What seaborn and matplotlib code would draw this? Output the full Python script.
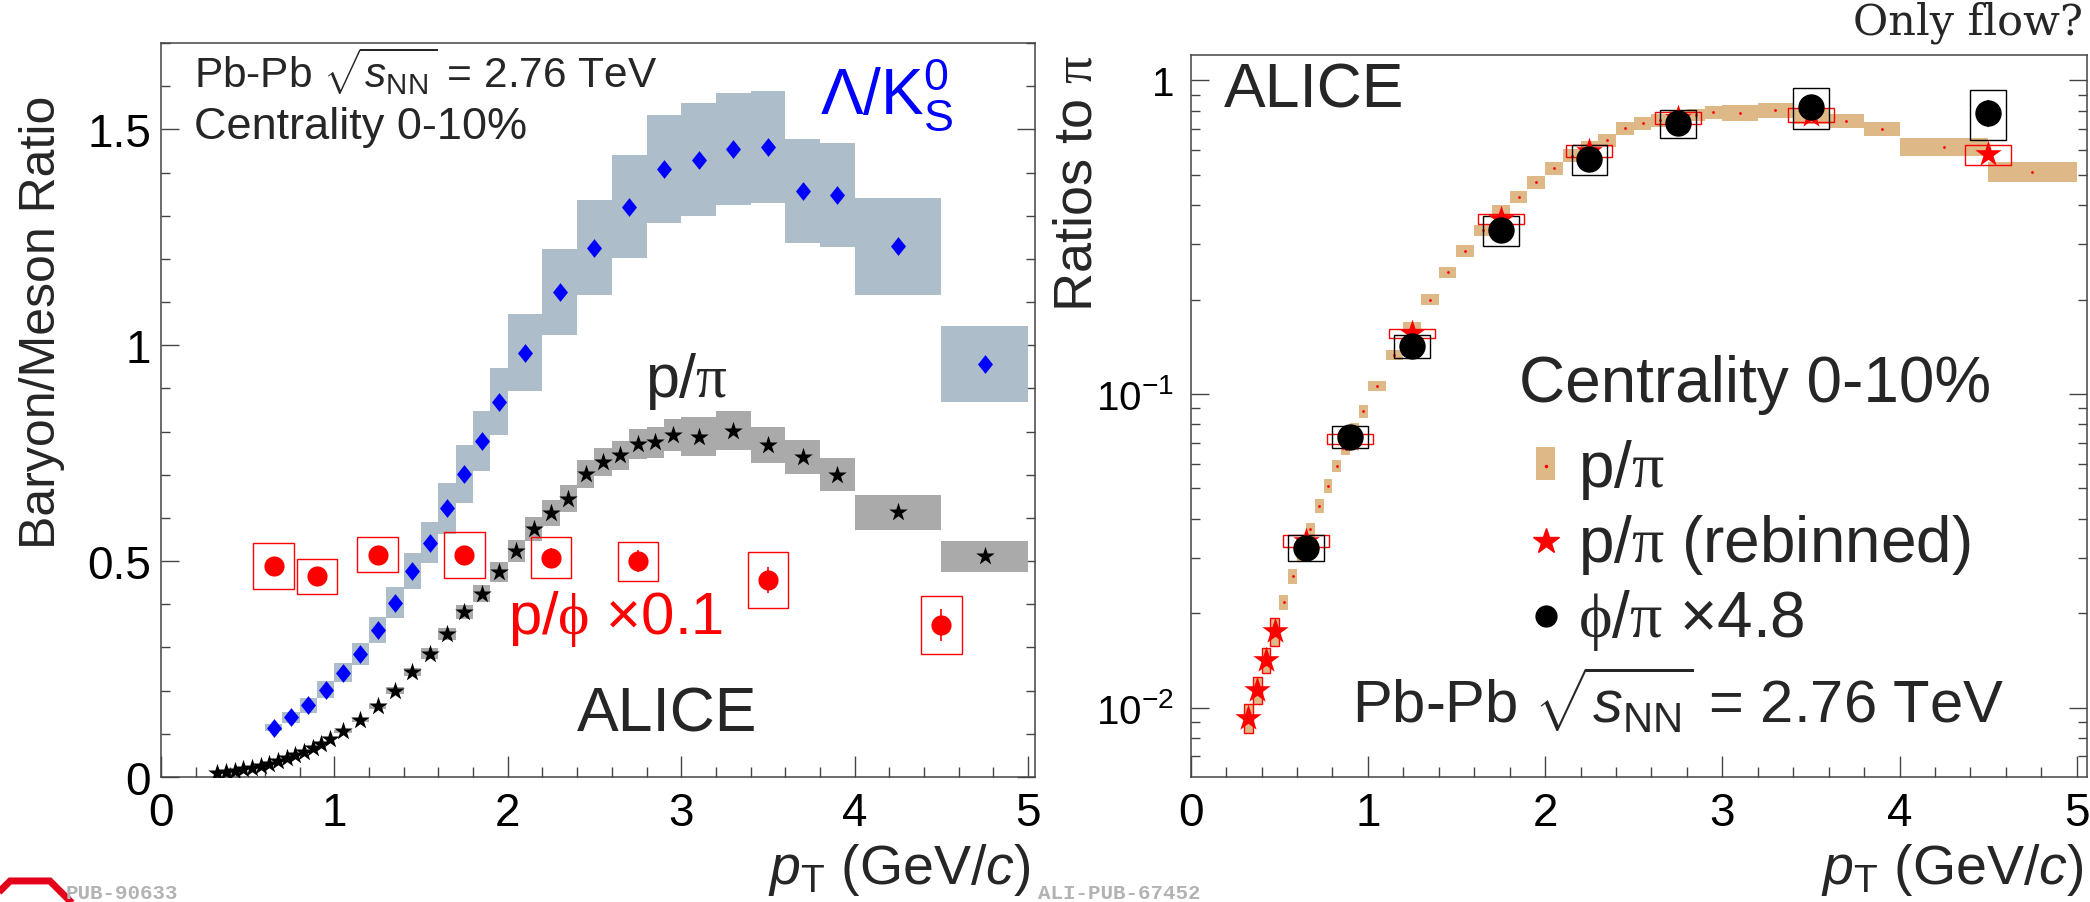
import numpy as np
import pandas as pd
import seaborn as sns
import matplotlib.pyplot as plt
from matplotlib.path import Path
from matplotlib.patches import Patch, Polygon
from matplotlib.lines import Line2D
from matplotlib.legend_handler import HandlerTuple
from matplotlib.ticker import MultipleLocator, FixedLocator, FixedFormatter, LogLocator, NullFormatter, FuncFormatter

# Lambda / K0s (0-10%)
lk_pt = [0.65, 0.75, 0.85, 0.95, 1.05, 1.15, 1.25, 1.35, 1.45, 1.55, 1.65, 1.75, 1.85, 1.95,
         2.1, 2.3, 2.5, 2.7, 2.9, 3.1, 3.3, 3.5, 3.7, 3.9, 4.25, 4.75]
lk_bin = [0.1] * 14 + [0.2] * 10 + [0.5] * 2
lk_val = [0.114, 0.138, 0.166, 0.202, 0.241, 0.285, 0.341, 0.404, 0.477, 0.543, 0.622, 0.702, 0.778, 0.869,
          0.983, 1.123, 1.226, 1.321, 1.408, 1.430, 1.455, 1.459, 1.357, 1.348, 1.229, 0.956]
lk_sys = [0.008, 0.012, 0.017, 0.02, 0.022, 0.026, 0.03, 0.035, 0.042, 0.048, 0.06, 0.067, 0.07, 0.078,
          0.09, 0.10, 0.11, 0.12, 0.126, 0.13, 0.13, 0.13, 0.12, 0.12, 0.112, 0.088]

# p / pi (0-10%)
pp_pt = [0.325, 0.375, 0.425, 0.475, 0.525, 0.575, 0.625, 0.675, 0.725, 0.775, 0.825, 0.875, 0.925, 0.975,
         1.05, 1.15, 1.25, 1.35, 1.45, 1.55, 1.65, 1.75, 1.85, 1.95,
         2.05, 2.15, 2.25, 2.35, 2.45, 2.55, 2.65, 2.75, 2.85, 2.95,
         3.1, 3.3, 3.5, 3.7, 3.9, 4.25, 4.75]
pp_bin = [0.05] * 14 + [0.1] * 20 + [0.2] * 5 + [0.5] * 2
pp_val = [0.0093, 0.0114, 0.0142, 0.0175, 0.0217, 0.0262, 0.031, 0.037, 0.044, 0.051, 0.059, 0.067, 0.077, 0.088,
          0.106, 0.133, 0.164, 0.2, 0.244, 0.286, 0.332, 0.382, 0.425, 0.474,
          0.524, 0.575, 0.612, 0.645, 0.702, 0.729, 0.745, 0.771, 0.775, 0.791,
          0.788, 0.802, 0.769, 0.741, 0.700, 0.613, 0.511]
pp_sys = [0.001, 0.0011, 0.0013, 0.0018, 0.0012, 0.0014, 0.0016, 0.0019, 0.0022, 0.0025, 0.0028, 0.0032, 0.0036, 0.004,
          0.0037, 0.0048, 0.006, 0.0077, 0.0095, 0.012, 0.014, 0.017, 0.02, 0.023,
          0.026, 0.028, 0.03, 0.031, 0.033, 0.033, 0.034, 0.035, 0.036, 0.037,
          0.045, 0.045, 0.042, 0.039, 0.038, 0.041, 0.036]

# p / phi x 0.1
pphi_pt = [0.65, 0.9, 1.25, 1.75, 2.25, 2.75, 3.5, 4.5]
pphi_val = [0.488, 0.465, 0.515, 0.515, 0.508, 0.500, 0.456, 0.352]
pphi_stat = [0.015, 0.012, 0.018, 0.018, 0.022, 0.025, 0.03, 0.037]
pphi_sys = [0.053, 0.04, 0.04, 0.053, 0.047, 0.045, 0.065, 0.067]
pphi_box = 0.234

# p / pi rebinned
reb_pt = [0.325, 0.375, 0.425, 0.475, 0.65, 0.9, 1.25, 1.75, 2.25, 2.75, 3.5, 4.5]
reb_box = [0.05, 0.05, 0.05, 0.05, 0.26, 0.26, 0.26, 0.26, 0.26, 0.26, 0.26, 0.26]
reb_val = [0.0093, 0.0114, 0.0142, 0.0175, 0.034, 0.072, 0.156, 0.362, 0.596, 0.758, 0.776, 0.58]
reb_sys = [0.001, 0.0011, 0.0013, 0.0018, 0.0014, 0.0025, 0.005, 0.013, 0.025, 0.033, 0.041, 0.042]

# phi / pi x 4.8
phipi_pt = [0.65, 0.9, 1.25, 1.75, 2.25, 2.75, 3.5, 4.5]
phipi_val = [0.0324, 0.0731, 0.1426, 0.332, 0.56, 0.731, 0.823, 0.789]
phipi_stat = [0.0015, 0.003, 0.006, 0.012, 0.02, 0.03, 0.04, 0.078]
phipi_sys = [0.003, 0.0058, 0.012, 0.036, 0.06, 0.074, 0.125, 0.145]
phipi_box = 0.2

sns.set_style("ticks")
plt.rcParams['font.family'] = ['Liberation Sans', 'DejaVu Sans']
plt.rcParams['mathtext.fontset'] = 'custom'
plt.rcParams['mathtext.rm'] = 'Liberation Sans'
plt.rcParams['mathtext.it'] = 'Liberation Sans:italic'
plt.rcParams['mathtext.sf'] = 'Liberation Serif'

FRAME = '#444444'
BLUEBOX = '#adbdc9'
GREYBOX = '#aaaaaa'
TAN = '#deb887'

def style_axes(ax, ypad, ysize):
    for s in ax.spines.values():
        s.set_color(FRAME)
        s.set_linewidth(1.1)
    ax.tick_params(which='both', direction='in', left=True, right=True, top=False, bottom=True,
                   colors=FRAME, labelcolor='black', width=1.0)
    ax.tick_params(axis='x', which='major', length=15, pad=10, labelsize=33)
    ax.tick_params(axis='x', which='minor', length=7.5)
    ax.tick_params(axis='y', which='major', length=13, pad=ypad, labelsize=ysize)
    ax.tick_params(axis='y', which='minor', length=6.5)
    ax.xaxis.set_major_locator(MultipleLocator(1))
    ax.xaxis.set_minor_locator(MultipleLocator(0.2))
    ax.xaxis.set_major_formatter(FuncFormatter(lambda v, p: f"{v:g}"))

fig = plt.figure(figsize=(20.9, 9.03), dpi=100)
ax1 = fig.add_axes([0.0770, 0.1384, 0.4182, 0.8129])
ax2 = fig.add_axes([0.5697, 0.1384, 0.4287, 0.7991])

# ---------------- left panel ----------------
lk = pd.DataFrame({'pt': lk_pt, 'val': lk_val, 'sys': lk_sys, 'bin': lk_bin})
pp = pd.DataFrame({'pt': pp_pt, 'val': pp_val, 'sys': pp_sys, 'bin': pp_bin})
pphi = pd.DataFrame({'pt': pphi_pt, 'val': pphi_val, 'stat': pphi_stat, 'sys': pphi_sys})

ax1.bar(lk.pt, 2 * lk.sys, bottom=lk.val - lk.sys, width=lk.bin, color=BLUEBOX, linewidth=0, zorder=1)
ax1.bar(pp.pt, 2 * pp.sys, bottom=pp.val - pp.sys, width=pp.bin, color=GREYBOX, linewidth=0, zorder=1)
ax1.bar(pphi.pt, 2 * pphi.sys, bottom=pphi.val - pphi.sys, width=pphi_box, fill=False,
        edgecolor='red', linewidth=1.0, zorder=3)

diamond = Path([(0, 1), (0.8, 0), (0, -1), (-0.8, 0), (0, 1)],
               [Path.MOVETO, Path.LINETO, Path.LINETO, Path.LINETO, Path.CLOSEPOLY])
sns.scatterplot(data=lk, x='pt', y='val', marker=diamond, s=13.5 ** 2, color='blue',
                linewidth=0, ax=ax1, zorder=4, legend=False)
sns.scatterplot(data=pp, x='pt', y='val', marker='*', s=14 ** 2, color='black',
                linewidth=0, ax=ax1, zorder=4, legend=False)
ax1.errorbar(pphi.pt, pphi.val, yerr=pphi.stat, fmt='none', ecolor='red', elinewidth=1.2, zorder=5)
sns.scatterplot(data=pphi, x='pt', y='val', marker='o', s=14.5 ** 2, color='red',
                linewidth=0, ax=ax1, zorder=5, legend=False)

ax1.set_xlim(0, 5.04)
ax1.set_ylim(0, 1.70)
style_axes(ax1, 7, 33)
ax1.yaxis.set_major_locator(MultipleLocator(0.5))
ax1.yaxis.set_minor_locator(MultipleLocator(0.1))
ax1.yaxis.set_major_formatter(FuncFormatter(lambda v, p: f"{v:g}"))
ax1.set_xlabel('')
ax1.set_ylabel('')

ax1.text(0.19, 1.598, r"Pb-Pb $\sqrt{s_{\mathrm{NN}}}$ = 2.76 TeV", fontsize=30.5, va='baseline')
ax1.text(0.19, 1.48, "Centrality 0-10%", fontsize=32.5, va='baseline')
ax1.text(3.80, 1.537, r"$\mathrm{\Lambda}/\mathrm{K}^{0}_{\mathrm{S}}$", fontsize=46, va='baseline', color='blue')
ax1.text(2.79, 0.882, r"p/$\mathsf{\pi}$", fontsize=44, va='baseline')
ax1.text(2.0, 0.334, r"p/$\mathsf{\phi}$ ×0.1", fontsize=43, va='baseline', color='red')
ax1.text(2.40, 0.107, "ALICE", fontsize=45, va='baseline')

# ---------------- right panel ----------------
reb = pd.DataFrame({'pt': reb_pt, 'val': reb_val, 'sys': reb_sys, 'box': reb_box})
phipi = pd.DataFrame({'pt': phipi_pt, 'val': phipi_val, 'stat': phipi_stat, 'sys': phipi_sys})

ax2.set_yscale('log')
ax2.bar(pp.pt, 2 * pp.sys, bottom=pp.val - pp.sys, width=pp.bin, color=TAN, linewidth=0, zorder=1)
sns.scatterplot(data=pp, x='pt', y='val', marker='o', s=2.0 ** 2, color='red',
                linewidth=0, ax=ax2, zorder=2, legend=False)
ax2.bar(reb.pt, 2 * reb.sys, bottom=reb.val - reb.sys, width=reb.box, fill=False,
        edgecolor='red', linewidth=1.0, zorder=3)
ax2.bar(phipi.pt, 2 * phipi.sys, bottom=phipi.val - phipi.sys, width=phipi_box, fill=False,
        edgecolor='black', linewidth=1.0, zorder=3)
sns.scatterplot(data=reb, x='pt', y='val', marker='*', s=20 ** 2, color='red',
                linewidth=0, ax=ax2, zorder=4, legend=False)
ax2.errorbar(phipi.pt, phipi.val, yerr=phipi.stat, fmt='none', ecolor='black', elinewidth=1.2, zorder=5)
sns.scatterplot(data=phipi, x='pt', y='val', marker='o', s=19 ** 2, color='black',
                linewidth=0, ax=ax2, zorder=5, legend=False)

ax2.set_xlim(0, 5.056)
ax2.set_ylim(0.00601, 1.2)
style_axes(ax2, 12, 29)
ax2.yaxis.set_major_locator(FixedLocator([0.01, 0.1, 1]))
ax2.yaxis.set_major_formatter(FixedFormatter([r"$10^{-2}$", r"$10^{-1}$", "1"]))
ax2.yaxis.set_minor_locator(LogLocator(base=10, subs=range(2, 10)))
ax2.yaxis.set_minor_formatter(NullFormatter())
ax2.set_xlabel('')
ax2.set_ylabel('')

ax2.text(0.19, 0.823, "ALICE", fontsize=45, va='baseline')
ax2.text(1.853, 0.0952, "Centrality 0-10%", fontsize=46, va='baseline')
ax2.text(0.91, 0.00898, r"Pb-Pb $\sqrt{s_{\mathrm{NN}}}$ = 2.76 TeV", fontsize=43, va='baseline')

handles = [(Patch(facecolor=TAN, edgecolor='none'),
            Line2D([], [], ls='none', marker='o', ms=1.5, color='red')),
           Line2D([], [], ls='none', marker='*', ms=19, color='red'),
           Line2D([], [], ls='none', marker='o', ms=15, color='black')]
labels = [r"p/$\mathsf{\pi}$", r"p/$\mathsf{\pi}$ (rebinned)", r"$\mathsf{\phi}$/$\mathsf{\pi}$ ×4.8"]
ax2.legend(handles, labels, loc='upper left', bbox_to_anchor=(0.3855, 0.471),
           frameon=False, fontsize=46, numpoints=1, handlelength=0.3, handleheight=0.42,
           handletextpad=0.36, labelspacing=0.17, borderpad=0, borderaxespad=0,
           handler_map={tuple: HandlerTuple(ndivide=1)})

# ---------------- figure texts ----------------
fig.text(42 / 2090, 1 - 549 / 903, "Baryon/Meson Ratio", rotation=90, ha='center', va='bottom', fontsize=36)
fig.text(1078 / 2090, 1 - 55 / 903, r"Ratios to $\mathsf{\pi}$", rotation=90, ha='center', va='top', fontsize=39)
fig.text(1031 / 2090, 1 - 884 / 903, r"$p_{\mathrm{T}}$ (GeV/$c$)", ha='right', va='baseline', fontsize=40)
fig.text(2084 / 2090, 1 - 884 / 903, r"$p_{\mathrm{T}}$ (GeV/$c$)", ha='right', va='baseline', fontsize=40)
fig.text(2083 / 2090, 1 - 35 / 903, "Only flow?", ha='right', va='baseline', family='DejaVu Serif', fontsize=31)
fig.text(66 / 2090, 1 - 899 / 903, "PUB-90633", ha='left', va='baseline', family='Liberation Mono',
         weight='bold', color='#b3b3b3', fontsize=15)
fig.text(1038 / 2090, 1 - 899 / 903, "ALI-PUB-67452", ha='left', va='baseline', family='Liberation Mono',
         weight='bold', color='#b3b3b3', fontsize=15)

# ALICE logo fragment (red octagon, mostly below the page)
ang = np.deg2rad(22.5 + 45 * np.arange(8))
oct_x = (30 + 52 * np.cos(ang)) / 2090
oct_y = 1 - (930 + 52 * np.sin(ang)) / 903
fig.patches.append(Polygon(np.column_stack([oct_x, oct_y]), closed=True, fill=False,
                           edgecolor='#e2001a', linewidth=5, transform=fig.transFigure, figure=fig))

fig.savefig('out.png', dpi=100)
